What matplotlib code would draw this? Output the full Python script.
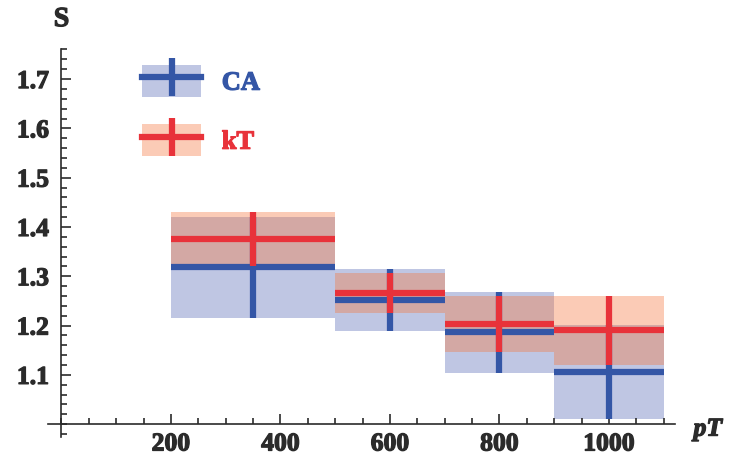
import matplotlib
matplotlib.use("Agg")
import matplotlib.pyplot as plt
import matplotlib.patheffects as pe
from matplotlib.patches import Patch
from matplotlib.lines import Line2D
from matplotlib.ticker import MultipleLocator
import matplotlib.transforms as mtransforms

# pT bins
bin_lo = [200, 500, 700, 900]
bin_hi = [500, 700, 900, 1100]
pt_center = [350, 600, 800, 1000]

# S values and errors
ca_s = [1.318, 1.251, 1.186, 1.106]
ca_err = [0.102, 0.063, 0.082, 0.095]
kt_s = [1.375, 1.266, 1.203, 1.190]
kt_err = [0.055, 0.041, 0.057, 0.070]

y_ticks = [1.1, 1.2, 1.3, 1.4, 1.5, 1.6, 1.7]
x_ticks = [200, 400, 600, 800, 1000]

ca_line = "#3456A6"
ca_band = "#3A4FAA"
kt_line = "#E8323A"
kt_band = "#F5783F"
ink = "#2b2b2b"

plt.rcParams["font.family"] = ["Liberation Serif", "DejaVu Serif"]
plt.rcParams["font.weight"] = "bold"

fig = plt.figure(figsize=(7.32, 4.57), dpi=100)
ax = fig.add_axes([0.0653, 0.0438, 0.8564, 0.849])

widths = [h - l for l, h in zip(bin_lo, bin_hi)]
xerr = [w / 2 for w in widths]


def draw(s, err, line_c, band_c, alpha):
    ax.bar(pt_center, [2 * e for e in err], width=widths,
           bottom=[v - e for v, e in zip(s, err)],
           color=band_c, alpha=alpha, linewidth=0)
    ax.errorbar(pt_center, s, xerr=xerr, yerr=err, fmt="none",
                ecolor=line_c, elinewidth=4.5, capsize=0)


draw(ca_s, ca_err, ca_line, ca_band, 0.32)
draw(kt_s, kt_err, kt_line, kt_band, 0.38)

ax.set_xlim(-25, 1120)
ax.set_ylim(0.974, 1.761)

for side in ["top", "right"]:
    ax.spines[side].set_visible(False)
ax.spines["left"].set_position(("data", 0))
ax.spines["bottom"].set_position(("data", 1.0))
for side in ["left", "bottom"]:
    ax.spines[side].set_color(ink)
    ax.spines[side].set_linewidth(1.2)

ax.set_xticks(x_ticks)
ax.set_yticks(y_ticks)
ax.set_yticklabels([f"{v:.1f}" for v in y_ticks])
ax.xaxis.set_minor_locator(MultipleLocator(50))
ax.yaxis.set_minor_locator(MultipleLocator(0.02))
ax.tick_params(which="both", direction="in", colors=ink, width=1.2,
               labelsize=18.5, labelcolor=ink)
ax.tick_params(which="major", length=7)
ax.tick_params(axis="x", which="major", pad=6)
ax.tick_params(axis="y", which="major", pad=9)
ax.tick_params(which="minor", length=4)

heavy = [pe.withStroke(linewidth=0.9, foreground=ink)]
for lbl in ax.get_xticklabels() + ax.get_yticklabels():
    lbl.set_path_effects(heavy)

# axis labels
trans_y = mtransforms.blended_transform_factory(ax.transData, fig.transFigure)
ax.text(0, 0.957, "S", transform=trans_y, ha="center", va="center",
        fontsize=20, fontweight="bold", color=ink, path_effects=heavy)
trans_x = mtransforms.blended_transform_factory(fig.transFigure, ax.transData)
ax.text(0.967, 0.99, "pT", transform=trans_x, ha="center", va="center",
        fontsize=18.5, fontweight="bold", style="italic", color=ink,
        path_effects=heavy)

handles = [
    (Patch(facecolor=ca_band, alpha=0.32, linewidth=0),
     Line2D([], [], color=ca_line, lw=4.5, marker="|", markersize=28,
            markeredgewidth=4.5, markeredgecolor=ca_line)),
    (Patch(facecolor=kt_band, alpha=0.38, linewidth=0),
     Line2D([], [], color=kt_line, lw=4.5, marker="|", markersize=28,
            markeredgewidth=4.5, markeredgecolor=kt_line)),
]
leg = ax.legend(handles, ["CA", "kT"], loc="upper left",
                bbox_to_anchor=(0.150, 0.958), frameon=False,
                borderpad=0, borderaxespad=0, numpoints=1,
                handlelength=2.25, handleheight=1.45, labelspacing=1.05,
                handletextpad=0.78, prop={"size": 19, "weight": "bold"})
for txt, c in zip(leg.get_texts(), [ca_line, kt_line]):
    txt.set_color(c)
    txt.set_path_effects([pe.withStroke(linewidth=0.9, foreground=c)])

fig.savefig("out.png", dpi=100)
